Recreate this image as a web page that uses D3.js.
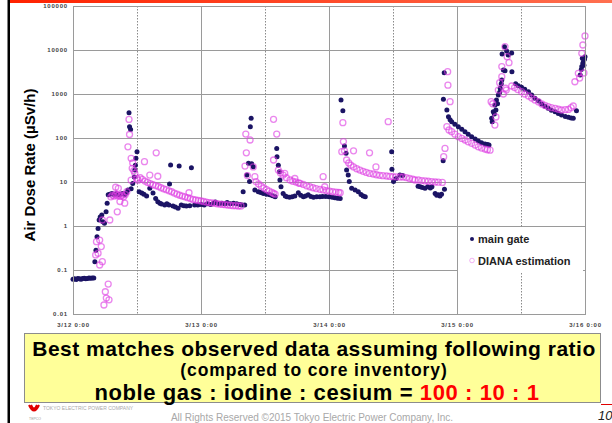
<!DOCTYPE html>
<html>
<head>
<meta charset="utf-8">
<script src="https://cdn.jsdelivr.net/npm/d3@7"></script>
<style>
    body { margin: 0; background: #fff; }
    svg { display: block; font-family: "Liberation Sans", Arial, sans-serif; }
</style>
</head>
<body>
<svg id="chart" width="612" height="423"></svg>
<script>
// Hours after 3/12 0:00, dose rate in uSv/h
const mainGate = [
    [0, 0.062], [0.3, 0.063], [0.6, 0.061], [0.9, 0.064], [1.2, 0.063], [1.5, 0.062], [1.8, 0.064], [2.1, 0.065],
    [2.4, 0.063], [2.7, 0.064], [3.0, 0.066], [3.3, 0.065], [3.6, 0.066], [3.9, 0.066], [4.1, 0.155], [4.3, 0.28],
    [4.5, 0.57], [4.7, 0.88], [4.9, 1.37], [5.1, 1.6], [5.4, 1.78], [5.6, 1.25], [5.9, 1.15], [6.2, 2.1], [6.4, 3.3],
    [6.6, 5.1], [6.9, 5.3], [7.3, 5.5], [7.7, 5.2], [8.1, 5.4], [8.5, 5.1], [8.9, 5.3], [9.3, 5.5], [9.7, 5.2],
    [10.0, 5.6], [10.3, 6.6], [10.5, 376], [10.6, 181], [10.8, 157], [10.9, 7.0], [11.2, 9.3], [11.5, 13],
    [11.6, 18.7], [11.7, 24], [11.8, 34.5], [12.0, 48.9], [12.4, 6.0], [12.9, 5.6], [13.3, 5.25], [13.8, 4.8],
    [14.4, 7.2], [15.0, 5.6], [15.5, 4.2], [15.9, 3.57], [16.3, 3.3], [16.6, 3.16], [17.2, 3.0], [17.6, 3.2],
    [18.0, 3.0], [18.1, 9.0], [18.3, 24.3], [18.75, 2.85], [19.2, 2.7], [19.7, 2.52], [19.9, 23], [20.3, 3.0],
    [20.8, 2.9], [21.25, 2.85], [21.9, 2.9], [22.2, 21.2], [22.8, 3.0], [23.4, 3.0], [24.0, 3.1], [24.6, 3.0],
    [25.2, 3.2], [25.8, 3.1], [26.4, 3.3], [26.7, 3.5], [27.3, 3.2], [27.9, 3.3], [28.5, 3.2], [28.9, 3.4],
    [29.5, 3.2], [30.1, 3.3], [30.7, 3.2], [31.3, 3.1], [31.7, 3.0], [31.9, 6.0], [32.2, 3.0], [32.6, 14.4],
    [32.9, 26.6], [33.1, 10.2], [33.25, 181], [33.4, 280], [33.5, 26], [33.8, 22.3], [34.1, 6.6], [34.75, 6.0],
    [35.2, 5.8], [35.7, 5.5], [36.3, 5.3], [36.9, 5.1], [37.4, 4.9], [37.9, 4.6], [38.2, 58], [38.25, 37.7],
    [38.5, 24], [38.7, 17], [38.8, 11.1], [39.0, 7.8], [39.4, 5.5], [39.8, 4.8], [40.1, 4.6], [40.6, 4.5],
    [41.1, 4.6], [41.6, 4.8], [42.25, 5.7], [42.7, 5.0], [43.2, 4.6], [43.6, 4.8], [44.1, 5.1], [44.6, 4.7],
    [45.1, 4.5], [45.7, 4.6], [46.3, 4.6], [46.8, 4.7], [47.4, 4.7], [48.0, 4.6], [48.6, 4.5], [49.1, 4.4],
    [49.6, 4.3], [50.1, 4.2], [50.25, 731], [50.6, 418], [50.9, 66], [51.2, 45], [51.3, 18.7], [51.6, 14.4],
    [51.8, 10.2], [52.25, 7.2], [52.9, 6.6], [53.5, 6.0], [54.0, 5.2], [54.4, 4.8], [54.8, 4.6], [59.75, 49],
    [59.8, 19.4], [60.1, 10.2], [60.6, 12], [61.3, 14.4], [61.8, 14], [64.7, 8.0], [65.1, 7.8], [65.5, 7.5],
    [66.0, 7.2], [66.5, 7.8], [67.0, 7.3], [67.3, 7.8], [67.9, 5.5], [68.2, 5.0], [68.5, 5.1], [68.8, 4.8],
    [69.1, 5.3], [69.4, 30.5], [69.45, 757], [69.6, 3050], [69.65, 6.8], [70.1, 433], [70.4, 305], [70.7, 260],
    [71.0, 235], [71.6, 205], [72.25, 181], [72.9, 158], [73.5, 139], [74.1, 122], [74.75, 107], [75.4, 95],
    [76.0, 85.5], [76.6, 78], [77.25, 73], [77.7, 71], [78.0, 69.6], [78.5, 280], [78.6, 235], [78.8, 396],
    [79.0, 350], [79.1, 562], [79.3, 433], [79.4, 731], [79.6, 600], [79.75, 950], [80.0, 1100], [80.1, 1350],
    [80.3, 1700], [80.4, 2080], [80.45, 8100], [80.7, 3510], [80.9, 11900], [81.0, 3390], [81.3, 9500],
    [81.6, 7700], [82.25, 8500], [82.3, 3200], [83.0, 1700], [83.5, 1550], [84.1, 1420], [84.7, 1280],
    [85.4, 1130], [86.0, 950], [86.6, 800], [87.3, 690], [87.9, 593], [88.5, 530], [89.1, 473], [89.7, 430],
    [90.4, 396], [91.0, 360], [91.6, 333], [92.3, 310], [92.9, 295], [93.4, 285], [93.8, 280], [94.4, 418],
    [95.1, 2700], [95.3, 3600], [95.4, 4200], [95.5, 6500], [95.6, 5000], [95.7, 5400], [95.8, 4500],
    [95.9, 6200], [96.0, 7050]
];

const diana = [
    [4.25, 0.22], [4.4, 0.44], [4.7, 0.24], [5.0, 0.13], [5.0, 0.48], [5.3, 0.34], [5.5, 0.155], [5.5, 1.37],
    [5.8, 0.016], [6.06, 0.032], [6.25, 0.023], [6.6, 0.048], [6.75, 0.021], [6.9, 1.37], [7.1, 4.6], [7.4, 5.0],
    [7.7, 4.8], [8.0, 7.6], [8.0, 5.2], [8.3, 2.1], [8.3, 4.9], [8.5, 7.2], [8.6, 5.1], [8.8, 3.6], [8.9, 4.7],
    [9.2, 5.0], [9.5, 4.6], [9.7, 3.3], [9.8, 5.2], [10.1, 6.0], [10.3, 63], [10.5, 265], [10.6, 120],
    [10.9, 34.5], [10.9, 11], [11.1, 20.5], [11.2, 27], [11.4, 18], [11.6, 15.7], [12.0, 12], [12.2, 11],
    [12.6, 12.5], [13.0, 11.5], [13.4, 29], [13.5, 10.5], [14.0, 9.8], [14.4, 14.4], [14.5, 9.2], [15.0, 8.7],
    [15.6, 46], [15.5, 8.3], [15.9, 13.5], [16.0, 7.9], [16.5, 7.4], [17.0, 7.0], [17.5, 6.7], [18.0, 6.3],
    [18.5, 6.0], [19.0, 5.6], [19.5, 5.3], [20.0, 5.0], [20.5, 4.8], [21.0, 4.6], [21.5, 4.4], [21.75, 5.7],
    [22.0, 4.2], [22.5, 4.0], [23.0, 3.9], [23.5, 3.8], [24.0, 3.7], [24.5, 3.6], [25.0, 3.5], [25.5, 3.4],
    [26.0, 3.35], [26.5, 3.3], [27.0, 3.2], [27.5, 3.15], [28.0, 3.1], [28.5, 3.05], [29.0, 3.0], [29.5, 2.95],
    [30.0, 2.9], [30.5, 2.9], [31.0, 2.85], [31.5, 2.85], [32.25, 23], [32.4, 123], [32.5, 46], [32.7, 14],
    [33.2, 90], [33.8, 22], [34.1, 13.2], [34.3, 10.2], [34.8, 9.0], [35.3, 8.0], [35.8, 7.3], [36.3, 6.7],
    [36.8, 6.2], [37.3, 5.8], [37.6, 5.5], [37.6, 266], [37.6, 31.6], [37.9, 5.3], [38.2, 123], [38.5, 18.7],
    [38.9, 16], [39.4, 14.4], [39.7, 15.7], [40.0, 12.5], [40.7, 11.1], [41.2, 10.4], [41.6, 12], [41.8, 10],
    [42.3, 9.5], [42.6, 9.3], [43.2, 8.8], [43.8, 8.2], [44.4, 7.8], [45.0, 7.4], [45.6, 7.1], [46.3, 6.8],
    [46.9, 6.6], [46.9, 13.2], [47.2, 7.8], [47.5, 6.4], [48.1, 6.2], [48.7, 6.0], [49.3, 5.9], [49.8, 5.8],
    [50.1, 5.7], [50.4, 49], [50.6, 223], [50.7, 83], [50.9, 51], [51.3, 31.6], [51.7, 27], [52.1, 24],
    [52.6, 22], [52.6, 51], [53.2, 20], [53.8, 18.7], [54.4, 17.5], [55.0, 16.5], [55.6, 15.7], [55.6, 46],
    [56.3, 15.2], [56.8, 22], [56.9, 14.6], [57.5, 14.2], [58.1, 13.9], [58.8, 13.7], [59.1, 235], [59.4, 13.4],
    [60.0, 13.2], [60.6, 13.1], [61.3, 13.0], [61.9, 13.0], [62.5, 12.6], [63.1, 12], [63.7, 11.6], [64.1, 11.1],
    [64.75, 11.1], [65.4, 10.8], [66.0, 10.6], [66.6, 10.4], [67.25, 10.2], [67.9, 10.0], [68.5, 9.9],
    [69.25, 9.8], [69.5, 37.6], [69.75, 58], [70.1, 181], [70.25, 3220], [70.3, 1590], [70.5, 152], [70.7, 668],
    [71.0, 139], [71.6, 122], [72.25, 107], [72.9, 98], [73.5, 90], [74.1, 82], [74.75, 75.7], [75.4, 69],
    [76.0, 63], [76.6, 59], [77.25, 56], [77.7, 54], [78.2, 53], [78.4, 668], [78.7, 600], [79.1, 197],
    [79.3, 300], [79.75, 1230], [80.0, 1800], [80.4, 2470], [80.4, 4200], [80.7, 1000], [81.0, 11900],
    [81.1, 1350], [81.25, 1230], [81.4, 7050], [81.75, 5140], [82.25, 1520], [82.8, 1400], [83.4, 1260],
    [84.1, 1130], [84.7, 1000], [85.4, 900], [86.0, 810], [86.6, 731], [87.3, 660], [87.9, 593], [88.5, 550],
    [89.1, 514], [89.7, 490], [90.4, 473], [91.0, 450], [91.6, 433], [92.3, 440], [92.9, 446], [93.4, 490],
    [93.8, 533], [94.1, 1900], [94.75, 2950], [95.0, 2300], [95.4, 8400], [95.6, 13000], [95.8, 3000],
    [96.0, 20800]
];

const yTicks = [0.01, 0.1, 1, 10, 100, 1000, 10000, 100000];
const yTickLabels = ['0.01', '0.1', '1', '10', '100', '1000', '10000', '100000'];
const xTickHours = [0, 24, 48, 72, 96];
const xTickLabels = ['3/12 0:00', '3/13 0:00', '3/14 0:00', '3/15 0:00', '3/16 0:00'];
const noonHours = [12, 36, 60, 84];
const seriesNames = ['main gate', 'DIANA estimation'];

let svg = d3.select('#chart');
let plotLeft = 73, plotRight = 585, plotTop = 6, plotBottom = 314;

let x = d3.scaleLinear().domain([0, 96]).range([plotLeft, plotRight]);
let y = d3.scaleLog().domain([0.01, 100000]).range([plotBottom, plotTop]);

// Slide decoration: left black rule and top red bar
let defs = svg.append('defs');
let grad = defs.append('linearGradient').attr('id', 'topbar').attr('x1', '0').attr('x2', '1');
grad.append('stop').attr('offset', '0').attr('stop-color', '#ff2200');
grad.append('stop').attr('offset', '1').attr('stop-color', '#ff7050');
svg.append('rect').attr('x', 10).attr('y', 0).attr('width', 602).attr('height', 3).attr('fill', 'url(#topbar)');
svg.append('rect').attr('x', 7.5).attr('y', 0).attr('width', 2.5).attr('height', 423).attr('fill', '#000');

// Grid
let grid = svg.append('g');
grid.selectAll('.hgrid').data(yTicks).enter().append('line')
    .attr('x1', plotLeft).attr('x2', plotRight)
    .attr('y1', (d) => Math.round(y(d)) + 0.5).attr('y2', (d) => Math.round(y(d)) + 0.5)
    .attr('stroke', '#9a9a9a').attr('stroke-width', 1);
grid.selectAll('.vgrid').data(xTickHours).enter().append('line')
    .attr('x1', (d) => Math.round(x(d)) + 0.5).attr('x2', (d) => Math.round(x(d)) + 0.5)
    .attr('y1', plotTop).attr('y2', plotBottom)
    .attr('stroke', '#9a9a9a').attr('stroke-width', 1);
grid.selectAll('.noon').data(noonHours).enter().append('line')
    .attr('x1', (d) => Math.round(x(d)) + 0.5).attr('x2', (d) => Math.round(x(d)) + 0.5)
    .attr('y1', plotTop).attr('y2', plotBottom)
    .attr('stroke', '#8a8a8a').attr('stroke-width', 1).attr('stroke-dasharray', '1.5,1.5');

// Axes labels
let yAxis = svg.append('g').attr('transform', 'translate(' + (plotLeft - 5) + ',0)')
    .call(d3.axisLeft(y).tickValues(yTicks).tickFormat((d, i) => yTickLabels[i]).tickSize(0).tickPadding(0));
let xAxis = svg.append('g').attr('transform', 'translate(0,' + plotBottom + ')')
    .call(d3.axisBottom(x).tickValues(xTickHours).tickFormat((d, i) => xTickLabels[i]).tickSize(0).tickPadding(9));
[yAxis, xAxis].forEach((a) => {
    a.select('.domain').remove();
    a.selectAll('text').attr('font-size', 6).attr('fill', '#444').attr('letter-spacing', 0.8)
        .attr('font-family', '"Liberation Sans", Arial, sans-serif').attr('font-weight', 'bold');
});

svg.append('text')
    .attr('transform', 'translate(35,165) rotate(-90)')
    .attr('text-anchor', 'middle').attr('font-size', 15).attr('font-weight', 'bold').attr('fill', '#000')
    .text('Air Dose Rate (\u00b5Sv/h)');

// Series
let pts = svg.append('g');
pts.selectAll('.mg').data(mainGate).enter().append('circle')
    .attr('cx', (d) => x(d[0])).attr('cy', (d) => y(d[1])).attr('r', 2.5)
    .attr('fill', '#1b1464');
pts.selectAll('.di').data(diana).enter().append('circle')
    .attr('cx', (d) => x(d[0])).attr('cy', (d) => y(d[1])).attr('r', 3)
    .attr('fill', 'none').attr('stroke', '#dd3ce2').attr('stroke-opacity', 0.62).attr('stroke-width', 1.3);

// Plot frame
svg.append('rect').attr('x', plotLeft + 0.5).attr('y', plotTop + 0.5)
    .attr('width', plotRight - plotLeft).attr('height', plotBottom - plotTop)
    .attr('fill', 'none').attr('stroke', '#9a9a9a');

// Legend
let legend = svg.append('g');
legend.append('rect').attr('x', 458).attr('y', 228).attr('width', 125).attr('height', 44).attr('fill', '#fff');
legend.append('circle').attr('cx', 472).attr('cy', 239).attr('r', 2).attr('fill', '#1b1464');
legend.append('circle').attr('cx', 472).attr('cy', 260.5).attr('r', 2.3)
    .attr('fill', 'none').attr('stroke', '#dd44e0').attr('stroke-opacity', 0.4).attr('stroke-width', 1);
legend.selectAll('text').data(seriesNames).enter().append('text')
    .attr('x', 478).attr('y', (d, i) => 243 + i * 21.5)
    .attr('font-size', 11).attr('font-weight', 'bold').attr('fill', '#222')
    .text((d) => d);

// Footer
let tepco = svg.append('g');
tepco.append('path').attr('d', 'M29,405 Q34,416 39,405 M31,405 Q34,412 37,405')
    .attr('fill', 'none').attr('stroke', '#e00000').attr('stroke-width', 2);
tepco.append('text').attr('x', 29).attr('y', 420).attr('font-size', 3.5).attr('fill', '#999').text('TEPCO');
tepco.append('text').attr('x', 43).attr('y', 409.5).attr('font-size', 5).attr('fill', '#aaa')
    .text('TOKYO ELECTRIC POWER COMPANY');

svg.append('text').attr('x', 312).attr('y', 421).attr('text-anchor', 'middle')
    .attr('font-size', 10).attr('fill', '#a8a8a8')
    .text('All Rights Reserved \u00a92015 Tokyo Electric Power Company, Inc.');
svg.append('line').attr('x1', 601).attr('x2', 612).attr('y1', 404.5).attr('y2', 404.5)
    .attr('stroke', '#e00000').attr('stroke-width', 1);
svg.append('text').attr('x', 598).attr('y', 420).attr('font-size', 13).attr('font-style', 'italic')
    .attr('fill', '#222').text('10');

// Yellow call-out box
let box = svg.append('g');
box.append('rect').attr('x', 24.5).attr('y', 333.5).attr('width', 576).attr('height', 69)
    .attr('fill', '#ffff99').attr('stroke', '#8c8c8c').attr('stroke-width', 1);
box.append('text').attr('x', 314).attr('y', 355.5).attr('text-anchor', 'middle')
    .attr('font-size', 21).attr('letter-spacing', 0.5).attr('font-weight', 'bold').attr('fill', '#000')
    .text('Best matches observed data assuming following ratio');
box.append('text').attr('x', 314).attr('y', 376).attr('text-anchor', 'middle')
    .attr('font-size', 17.5).attr('letter-spacing', 0.9).attr('font-weight', 'bold').attr('fill', '#000')
    .text('(compared to core inventory)');
let line3 = box.append('text').attr('x', 317).attr('y', 399.5).attr('text-anchor', 'middle')
    .attr('font-size', 22).attr('letter-spacing', 0.6).attr('font-weight', 'bold').attr('fill', '#000');
line3.append('tspan').text('noble gas : iodine : cesium = ');
line3.append('tspan').attr('fill', '#ff0000').text('100 : 10 : 1');
</script>
</body>
</html>
